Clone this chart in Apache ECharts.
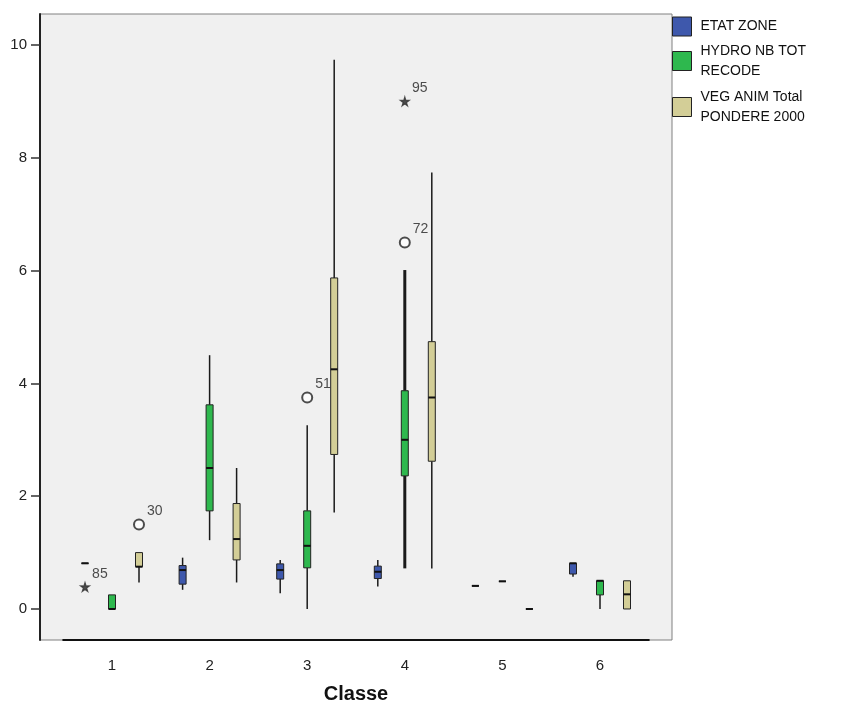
<!DOCTYPE html>
<html>
<head>
<meta charset="utf-8">
<script src="https://cdn.jsdelivr.net/npm/echarts@6/dist/echarts.min.js"></script>
<style>
  html, body { margin: 0; padding: 0; background: #fff; }
  #chart { width: 841px; height: 702px; }
</style>
</head>
<body>
<div id="chart"></div>
<script>
// categories on the x axis
const classes = ['1', '2', '3', '4', '5', '6']
const yTicks = [0, 2, 4, 6, 8, 10]
const seriesNames = ['ETAT ZONE', 'HYDRO NB TOT\nRECODE', 'VEG ANIM Total\nPONDERE 2000']

// box stats per class: [min, q1, median, q3, max]
const etatZone = [
  [0.81, 0.81, 0.81, 0.81, 0.81],
  [0.34, 0.44, 0.69, 0.77, 0.91],
  [0.28, 0.53, 0.69, 0.80, 0.87],
  [0.40, 0.54, 0.66, 0.76, 0.87],
  [0.41, 0.41, 0.41, 0.41, 0.41],
  [0.57, 0.62, 0.81, 0.81, 0.81],
]
const hydroNb = [
  [0, 0, 0, 0.25, 0.25],
  [1.22, 1.74, 2.5, 3.62, 4.5],
  [0, 0.73, 1.12, 1.74, 3.26],
  [0.72, 2.36, 3.0, 3.87, 6.01],
  [0.49, 0.49, 0.49, 0.49, 0.49],
  [0, 0.25, 0.5, 0.5, 0.5],
]
const vegAnim = [
  [0.47, 0.75, 0.75, 1.0, 1.0],
  [0.47, 0.87, 1.24, 1.87, 2.5],
  [1.71, 2.74, 4.25, 5.87, 9.74],
  [0.72, 2.62, 3.75, 4.74, 7.74],
  [0, 0, 0, 0, 0],
  [0, 0, 0.26, 0.5, 0.5],
]

// outliers: [class index, value, case label, kind]
const etatOutliers = [[0, 0.39, '85', 'extreme']]
const hydroOutliers = [
  [2, 3.75, '51', 'outlier'],
  [3, 6.5, '72', 'outlier'],
  [3, 9.0, '95', 'extreme'],
]
const vegOutliers = [[0, 1.5, '30', 'outlier']]

const colors = ['#3e58ac', '#2eb84e', '#d3ce97']
const font = "'Liberation Sans', Arial, sans-serif"
const slotStep = 27
const halfBox = 3.5
const starPath = 'path://M50,0 L61,35 L98,35 L68,57 L79,91 L50,70 L21,91 L32,57 L2,35 L39,35 Z'

function boxRenderer(slot) {
  return function (params, api) {
    const idx = api.value(0)
    const cx = api.coord([idx, 0])[0] + slot * slotStep
    const ys = [1, 2, 3, 4, 5].map((d) => api.coord([idx, api.value(d)])[1])
    const yMin = ys[0], yQ1 = ys[1], yMed = ys[2], yQ3 = ys[3], yMax = ys[4]
    // SPSS draws the long whisker of the dense group heavier
    const w = yMin - yMax > 250 && slot === 0 ? 3 : 1.5
    const lineStyle = { stroke: '#1a1a1a', lineWidth: w }
    return {
      type: 'group',
      children: [
        { type: 'line', shape: { x1: cx, y1: yQ3, x2: cx, y2: yMax }, style: lineStyle },
        { type: 'line', shape: { x1: cx, y1: yQ1, x2: cx, y2: yMin }, style: lineStyle },
        {
          type: 'rect',
          shape: { x: cx - halfBox, y: yQ3, width: halfBox * 2, height: yQ1 - yQ3 },
          style: { fill: api.visual('color'), stroke: '#222', lineWidth: 1 },
        },
        {
          type: 'line',
          shape: { x1: cx - halfBox, y1: yMed, x2: cx + halfBox, y2: yMed },
          style: { stroke: '#111', lineWidth: 2 },
        },
      ],
    }
  }
}

function boxSeries(name, stats, slot) {
  return {
    name: name,
    type: 'custom',
    xAxisIndex: 1,
    yAxisIndex: 1,
    itemStyle: { color: colors[slot + 1] },
    encode: { x: 0, y: [1, 2, 3, 4, 5] },
    data: stats.map((s, i) => [i].concat(s)),
    renderItem: boxRenderer(slot),
    z: 3,
  }
}

function outlierSeries(points, slot) {
  return {
    type: 'scatter',
    xAxisIndex: 1,
    yAxisIndex: 1,
    data: points,
    symbol: (v) => (v[3] === 'extreme' ? starPath : 'emptyCircle'),
    symbolSize: (v) => (v[3] === 'extreme' ? 9 : 10),
    symbolOffset: [slot * slotStep, 0],
    itemStyle: { color: '#222', borderColor: '#333', borderWidth: 1.2 },
    label: {
      show: true,
      position: 'right',
      distance: 2,
      offset: [0, -13],
      formatter: (p) => p.value[2],
      color: '#222',
      fontSize: 14,
      fontFamily: font,
    },
    emphasis: { disabled: true },
    z: 4,
  }
}

function legendFor(name, top) {
  return {
    data: [name],
    left: 672,
    top: top,
    padding: 0,
    orient: 'vertical',
    icon: 'rect',
    itemWidth: 19,
    itemHeight: 19,
    selectedMode: false,
    itemStyle: { borderColor: '#222', borderWidth: 1 },
    textStyle: { fontSize: 14, lineHeight: 20, color: '#111', fontFamily: font, padding: [0, 0, 0, 4] },
  }
}

const chart = echarts.init(document.getElementById('chart'))
chart.setOption({
  animation: false,
  backgroundColor: '#fff',
  textStyle: { fontFamily: font },
  legend: [
    legendFor(seriesNames[0], 16.5),
    legendFor(seriesNames[1], 41),
    legendFor(seriesNames[2], 87),
  ],
  grid: [
    {
      left: 40, top: 14, width: 632, height: 626, outerBoundsMode: 'none',
      show: true, backgroundColor: '#f0f0f0', borderColor: '#808080', borderWidth: 1,
    },
    { left: 63.2, top: 14, width: 585.6, height: 626, outerBoundsMode: 'none' },
  ],
  xAxis: [
    { type: 'value', gridIndex: 0, show: false },
    {
      type: 'category',
      gridIndex: 1,
      data: classes,
      boundaryGap: true,
      name: 'Classe',
      nameLocation: 'middle',
      nameGap: 44,
      nameTextStyle: { fontSize: 20, fontWeight: 'bold', color: '#111', fontFamily: font },
      axisLine: { onZero: false, lineStyle: { color: '#111', width: 2 } },
      axisTick: { alignWithLabel: true, length: 10, lineStyle: { color: '#111', width: 1.5 } },
      axisLabel: { fontSize: 15, color: '#222', margin: 18, fontFamily: font },
      splitLine: { show: false },
    },
  ],
  yAxis: [
    {
      type: 'value',
      gridIndex: 0,
      min: -0.55,
      max: 10.55,
      axisLine: { show: true, lineStyle: { color: '#222', width: 2 } },
      axisTick: { show: true, length: 9, customValues: yTicks, lineStyle: { color: '#333', width: 1.5 } },
      axisLabel: { fontSize: 15, color: '#222', margin: 13, customValues: yTicks, fontFamily: font },
      splitLine: { show: false },
    },
    { type: 'value', gridIndex: 1, min: -0.55, max: 10.55, show: false },
  ],
  series: [
    boxSeries(seriesNames[0], etatZone, -1),
    boxSeries(seriesNames[1], hydroNb, 0),
    boxSeries(seriesNames[2], vegAnim, 1),
    outlierSeries(etatOutliers, -1),
    outlierSeries(hydroOutliers, 0),
    outlierSeries(vegOutliers, 1),
  ],
})
</script>
</body>
</html>
